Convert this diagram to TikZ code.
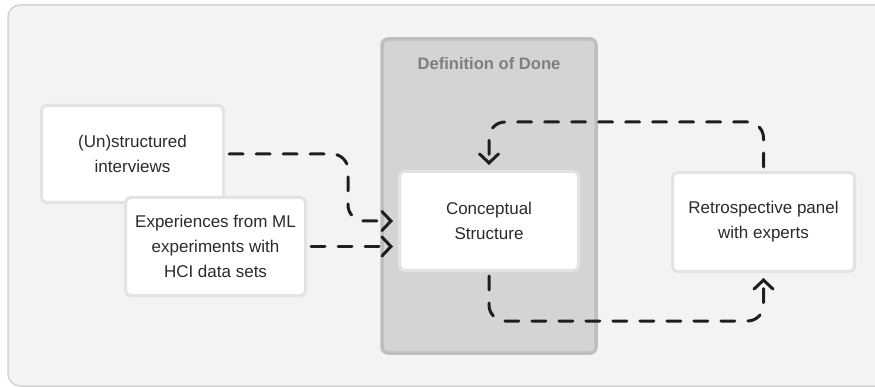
\documentclass[tikz,border=0pt]{standalone}
\usepackage{fontspec}
\setmainfont{Liberation Sans}
\usetikzlibrary{arrows.meta}
\definecolor{canvas}{HTML}{F3F3F3}
\definecolor{canvasline}{HTML}{D4D4D4}
\definecolor{donefill}{HTML}{D4D4D4}
\definecolor{doneline}{HTML}{BEBEBE}
\definecolor{donetext}{HTML}{7F7F7F}
\definecolor{cardline}{HTML}{E3E3E3}
\definecolor{ink}{HTML}{2B2B2B}
\definecolor{flowink}{HTML}{1E1E1E}
\begin{document}
\begin{tikzpicture}[x=1pt,y=-1pt,
    card/.style={draw=cardline,line width=3pt,fill=white,rounded corners=5pt,
      align=center,text=ink,inner sep=0pt,font=\fontsize{17}{25}\selectfont},
    donebox/.style={draw=doneline,line width=3.5pt,fill=donefill,rounded corners=6pt,
      minimum width=214pt,minimum height=314pt,inner sep=0pt},
    flow/.style={draw=flowink,line width=3pt,dash pattern=on 14pt off 13pt,
      line cap=round,rounded corners=16pt,shorten <=4pt,shorten >=5pt,
      -{Straight Barb[length=9pt,width=19pt,line cap=round]}}]
    \clip (0,0) rectangle (875,387);
    \fill[canvas,draw=canvasline,line width=1.5pt,rounded corners=12pt] (8,5) rectangle (895,386);

    \coordinate (done) at (489,196);
    \coordinate (unstrc) at (132.5,154);
    \coordinate (experc) at (215.5,246.5);
    \coordinate (conceptc) at (489,221);
    \coordinate (retroc) at (763.5,222);

    \node (dod) at (done)[donebox]{};
    \node (dodtitle) at (489,64)[text=donetext,font=\fontsize{16.6}{19}\selectfont\bfseries]{Definition of Done};

    \node (unstr) at (unstrc)[card,minimum width=182pt,minimum height=97pt]{(Un)structured\\interviews};
    \node (exper) at (experc)[card,minimum width=180pt,minimum height=98pt]{Experiences from ML\\experiments with\\HCI data sets};
    \node (concept) at (conceptc)[card,minimum width=179pt,minimum height=99pt]{Conceptual\\Structure};
    \node (retro) at (retroc)[card,minimum width=182pt,minimum height=99pt]{Retrospective panel\\with experts};

    \coordinate (k1) at (348,190);
    \coordinate (k3) at (620,122);
    \coordinate (k4) at (620,321);

    \draw[flow] (unstr.east) -| (k1) |- (concept.west);
    \draw[flow] (exper.east) -- (exper.east -| concept.west);
    \draw[flow] (retro.north) |- (k3) -| (concept.north);
    \draw[flow] (concept.south) |- (k4) -| (retro.south);
\end{tikzpicture}
\end{document}
